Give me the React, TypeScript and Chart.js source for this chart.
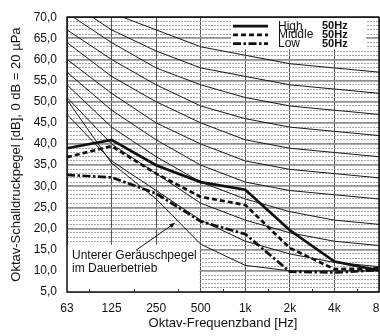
import React, { useEffect, useRef } from 'react';
import { Chart, registerables } from 'chart.js';

Chart.register(...registerables);

// ---- data ----
const frequencies = ['63', '125', '250', '500', '1k', '2k', '4k', '8k'];

const seriesNames = ['High', 'Middle', 'Low'];
const seriesSuffix = '50Hz';
const highValues = [39.0, 41.0, 35.0, 31.0, 29.2, 19.6, 12.2, 10.1];
const middleValues = [36.9, 39.5, 33.0, 27.5, 25.6, 15.4, 10.4, 10.6];
const lowValues = [32.7, 32.1, 28.3, 21.7, 18.7, 9.8, 9.6, 10.2];

// threshold line "Unterer Geräuschpegel im Dauerbetrieb"
const thresholdValues = [50.5, 35.5, 27.0, 16.3, 11.3, 10.0, 10.0, 10.0];
const thresholdText = ['Unterer Geräuschpegel', 'im Dauerbetrieb'];

// NC curves (background)
const nc15 = [47, 36, 29, 22, 17, 14, 12, 11];
const nc20 = [51, 40, 33, 26, 22, 19, 17, 16];
const nc25 = [54, 44, 37, 31, 27, 24, 22, 21];
const nc30 = [57, 48, 41, 35, 31, 29, 28, 27];
const nc35 = [60, 52, 45, 40, 36, 34, 33, 32];
const nc40 = [64, 56, 50, 45, 41, 39, 38, 37];
const nc45 = [67, 60, 54, 49, 46, 44, 43, 42];
const nc50 = [71, 64, 58, 54, 51, 49, 48, 47];
const nc55 = [74, 67, 62, 58, 56, 54, 53, 52];
const nc60 = [77, 71, 67, 63, 61, 59, 58, 57];
const ncCurves = [nc15, nc20, nc25, nc30, nc35, nc40, nc45, nc50, nc55, nc60];

const yMin = 5;
const yMax = 70;
const yMajorStep = 5;
const yMinorStep = 1;

const xTitle = 'Oktav-Frequenzband [Hz]';
const yTitle = 'Oktav-Schalldruckpegel [dB], 0 dB = 20 µPa';

// annotation anchors (data space: category index, dB)
const annotationBoxTopDb = 16.2;
const annotationTextDb = [13.7, 10.5];
const arrowTail = [1.55, 14.9];
const arrowHead = [2.43, 21.4];

const FONT = "'Liberation Sans', Arial, Helvetica, sans-serif";
const INK = '#111';

const annotationPlugin = {
  id: 'annotationBox',
  beforeDatasetsDraw(chart: any) {
    const { ctx, chartArea, scales } = chart;
    const xs = scales.x;
    const ys = scales.y;
    const x0 = xs.getPixelForValue(0);
    const x1 = xs.getPixelForValue(3) - 1;
    const yTop = ys.getPixelForValue(annotationBoxTopDb);
    ctx.save();
    ctx.fillStyle = '#ffffff';
    ctx.fillRect(x0, yTop, x1 - x0, chartArea.bottom - yTop);
    ctx.fillStyle = INK;
    ctx.font = `12px ${FONT}`;
    ctx.textBaseline = 'middle';
    ctx.textAlign = 'left';
    thresholdText.forEach((t, i) => {
      ctx.fillText(t, x0 + 5, ys.getPixelForValue(annotationTextDb[i]));
    });
    ctx.restore();
  },
  afterDatasetsDraw(chart: any) {
    const { ctx, scales } = chart;
    const xs = scales.x;
    const ys = scales.y;
    const tx = xs.getPixelForValue(arrowTail[0]);
    const ty = ys.getPixelForValue(arrowTail[1]);
    const hx = xs.getPixelForValue(arrowHead[0]);
    const hy = ys.getPixelForValue(arrowHead[1]);
    const ang = Math.atan2(hy - ty, hx - tx);
    const len = 6;
    const wid = 2.2;
    ctx.save();
    ctx.strokeStyle = INK;
    ctx.fillStyle = INK;
    ctx.lineWidth = 1;
    ctx.beginPath();
    ctx.moveTo(tx, ty);
    ctx.lineTo(hx - Math.cos(ang) * len * 0.8, hy - Math.sin(ang) * len * 0.8);
    ctx.stroke();
    ctx.beginPath();
    ctx.moveTo(hx, hy);
    ctx.lineTo(hx - Math.cos(ang) * len - Math.sin(ang) * wid, hy - Math.sin(ang) * len + Math.cos(ang) * wid);
    ctx.lineTo(hx - Math.cos(ang) * len + Math.sin(ang) * wid, hy - Math.sin(ang) * len - Math.cos(ang) * wid);
    ctx.closePath();
    ctx.fill();
    ctx.restore();
  },
};

const legendPlugin = {
  id: 'customLegend',
  afterDatasetsDraw(chart: any) {
    const { ctx, chartArea } = chart;
    const boxRight = chartArea.right - 13;
    const boxLeft = boxRight - 135;
    const boxTop = chartArea.top;
    const boxH = 32;
    ctx.save();
    ctx.fillStyle = '#ffffff';
    ctx.fillRect(boxLeft, boxTop, boxRight - boxLeft, boxH);
    seriesNames.forEach((name, i) => {
      const ds = chart.data.datasets[i];
      const y = boxTop + 9 + i * 8.7;
      ctx.strokeStyle = ds.borderColor;
      ctx.lineWidth = ds.borderWidth;
      ctx.setLineDash(ds.borderDash || []);
      ctx.beginPath();
      ctx.moveTo(boxLeft + 2, y);
      ctx.lineTo(boxLeft + 37, y);
      ctx.stroke();
      ctx.setLineDash([]);
      ctx.fillStyle = INK;
      ctx.textBaseline = 'middle';
      ctx.textAlign = 'left';
      ctx.font = `12px ${FONT}`;
      ctx.fillText(name, boxLeft + 47, y);
      ctx.font = `bold 11px ${FONT}`;
      ctx.fillText(seriesSuffix, boxLeft + 91, y);
    });
    ctx.restore();
  },
};

const framePlugin = {
  id: 'frame',
  afterDraw(chart: any) {
    const { ctx, chartArea, scales } = chart;
    const xs = scales.x;
    ctx.save();
    ctx.strokeStyle = '#111';
    ctx.lineWidth = 1.5;
    ctx.strokeRect(chartArea.left, chartArea.top, chartArea.right - chartArea.left, chartArea.bottom - chartArea.top);
    ctx.lineWidth = 1;
    ctx.strokeStyle = '#333';
    for (let i = 0; i < frequencies.length - 1; i++) {
      const xm = Math.round((xs.getPixelForValue(i) + xs.getPixelForValue(i + 1)) / 2) + 0.5;
      ctx.beginPath();
      ctx.moveTo(xm, chartArea.bottom);
      ctx.lineTo(xm, chartArea.bottom - 3);
      ctx.stroke();
    }
    ctx.restore();
  },
};

const isMajor = (ctx: any) => ctx && ctx.tick && Math.abs(ctx.tick.value % yMajorStep) < 1e-6;

export default function App() {
  const canvasRef = useRef<HTMLCanvasElement | null>(null);

  useEffect(() => {
    if (!canvasRef.current) return;
    const mainStyles = [
      { data: highValues, dash: [] as number[] },
      { data: middleValues, dash: [5, 3] },
      { data: lowValues, dash: [8, 2.5, 2.5, 2.5] },
    ];
    const datasets: any[] = mainStyles.map((m, i) => ({
      label: seriesNames[i],
      data: m.data,
      borderColor: INK,
      borderWidth: 2.7,
      borderDash: m.dash,
      pointRadius: 0,
      tension: 0,
      fill: false,
    }));
    datasets.push({
      label: 'threshold',
      data: thresholdValues,
      borderColor: '#1a1a1a',
      borderWidth: 1,
      pointRadius: 0,
      tension: 0,
      fill: false,
    });
    ncCurves.forEach((c, i) => {
      datasets.push({
        label: `NC${i}`,
        data: c,
        borderColor: '#1a1a1a',
        borderWidth: 1,
        pointRadius: 0,
        tension: 0,
        fill: false,
      });
    });

    const chart = new Chart(canvasRef.current, {
      type: 'line',
      data: { labels: frequencies, datasets },
      options: {
        responsive: false,
        animation: false,
        events: [],
        layout: { padding: { top: 10, right: 1, left: 0, bottom: 0 } },
        plugins: { legend: { display: false }, tooltip: { enabled: false } },
        scales: {
          x: {
            type: 'category',
            offset: false,
            grid: { color: '#555', lineWidth: 1, drawTicks: false },
            border: { display: false },
            ticks: { padding: 9, autoSkip: false, maxRotation: 0, color: INK, font: { family: FONT, size: 12 } },
            title: { display: true, text: xTitle, color: INK, font: { family: FONT, size: 13 }, padding: { top: 0, bottom: 5 } },
            afterFit: (s: any) => {
              s.height = 44;
              s.paddingLeft = 0;
              s.paddingRight = 0;
            },
          },
          y: {
            type: 'linear',
            min: yMin,
            max: yMax,
            grid: {
              drawTicks: false,
              color: (ctx: any) => (isMajor(ctx) ? '#8f8f8f' : '#a6a6a6'),
              lineWidth: (ctx: any) => (isMajor(ctx) ? 1.8 : 1),
            },
            border: { display: false, dash: (ctx: any) => (ctx && ctx.tick && !isMajor(ctx) ? [2, 1] : []) },
            ticks: {
              stepSize: yMinorStep,
              autoSkip: false,
              padding: 10,
              color: INK,
              font: { family: FONT, size: 12 },
              callback: (v: any) => (Math.abs(Number(v) % yMajorStep) < 1e-6 ? Number(v).toFixed(1).replace('.', ',') : ''),
            },
            title: { display: true, text: yTitle, color: INK, font: { family: FONT, size: 13 }, padding: { top: 9, bottom: 0 } },
            afterFit: (s: any) => {
              s.width = 67;
            },
          },
        },
      } as any,
      plugins: [annotationPlugin, legendPlugin, framePlugin],
    });
    return () => chart.destroy();
  }, []);

  return (
    <div style={{ position: 'fixed', left: 0, top: 0, width: 380, height: 336, background: '#fff', overflow: 'hidden' }}>
      <canvas ref={canvasRef} width={380} height={336} style={{ display: 'block' }} />
    </div>
  );
}
